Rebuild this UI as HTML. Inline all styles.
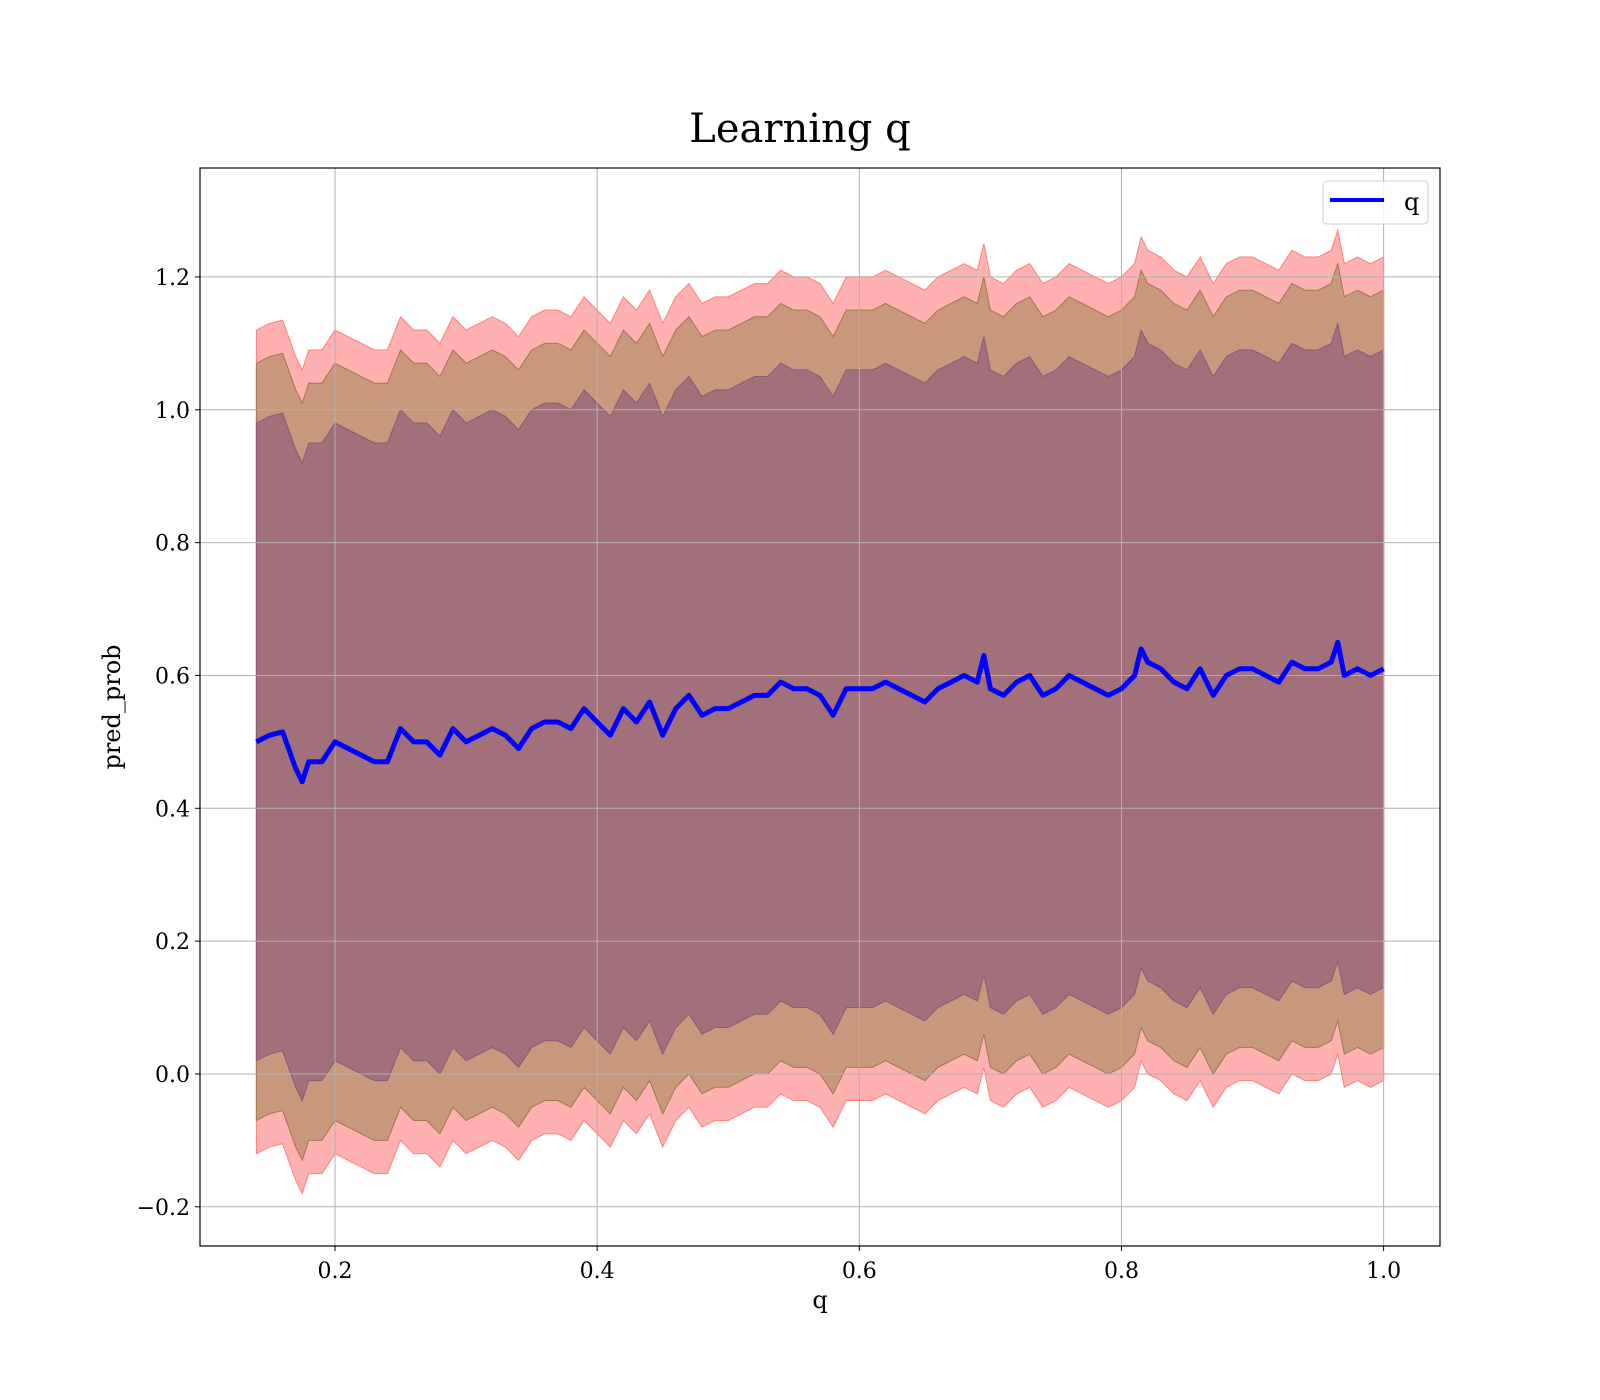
<!DOCTYPE html>
<html><head><meta charset="utf-8"><style>
body{margin:0;background:#fff}
svg{display:block}
text{font-family:"DejaVu Serif","Liberation Serif",serif;fill:#000}
</style></head><body>
<svg width="1600" height="1400" viewBox="0 0 1600 1400">
<text x="800" y="142" font-size="40" text-anchor="middle">Learning q</text>
<g id="plot"></g>
<script>
const qVals=[0.14,0.15,0.16,0.17,0.175,0.18,0.19,0.20,0.21,0.22,0.23,0.24,0.25,0.26,0.27,0.28,0.29,0.30,0.31,0.32,0.33,0.34,0.35,0.36,0.37,0.38,0.39,0.40,0.41,0.42,0.43,0.44,0.45,0.46,0.47,0.48,0.49,0.50,0.51,0.52,0.53,0.54,0.55,0.56,0.57,0.58,0.59,0.60,0.61,0.62,0.63,0.64,0.65,0.66,0.67,0.68,0.69,0.695,0.70,0.71,0.72,0.73,0.74,0.75,0.76,0.77,0.78,0.79,0.80,0.81,0.815,0.82,0.83,0.84,0.85,0.86,0.87,0.88,0.89,0.90,0.91,0.92,0.93,0.94,0.95,0.96,0.965,0.97,0.98,0.99,1.0];
const predProb=[0.50,0.51,0.515,0.46,0.44,0.47,0.47,0.50,0.49,0.48,0.47,0.47,0.52,0.50,0.50,0.48,0.52,0.50,0.51,0.52,0.51,0.49,0.52,0.53,0.53,0.52,0.55,0.53,0.51,0.55,0.53,0.56,0.51,0.55,0.57,0.54,0.55,0.55,0.56,0.57,0.57,0.59,0.58,0.58,0.57,0.54,0.58,0.58,0.58,0.59,0.58,0.57,0.56,0.58,0.59,0.60,0.59,0.63,0.58,0.57,0.59,0.60,0.57,0.58,0.60,0.59,0.58,0.57,0.58,0.60,0.64,0.62,0.61,0.59,0.58,0.61,0.57,0.60,0.61,0.61,0.60,0.59,0.62,0.61,0.61,0.62,0.65,0.60,0.61,0.60,0.61];
const bandHalf=[0.62,0.57,0.48];
const xTicks=[0.2,0.4,0.6,0.8,1.0];
const yTicks=[-0.2,0.0,0.2,0.4,0.6,0.8,1.0,1.2];
const xTickLabels=["0.2","0.4","0.6","0.8","1.0"];
const yTickLabels=["\u22120.2","0.0","0.2","0.4","0.6","0.8","1.0","1.2"];
const L=200,R=1440,T=168,B=1246,X0=0.097,X1=1.043,Y0=-0.259,Y1=1.364;
const sx=v=>L+(v-X0)/(X1-X0)*(R-L);
const sy=v=>B-(v-Y0)/(Y1-Y0)*(B-T);
const NS="http://www.w3.org/2000/svg";
const g=document.getElementById('plot');
function mk(t,a,p){const e=document.createElementNS(NS,t);for(const k in a)e.setAttribute(k,a[k]);(p||g).appendChild(e);return e;}
const bandFill=["#ffb0b0","#c9977c","#a2707a"];
const bandEdge=["#ff8080","#a07850","#8a5a78"];
const bandNames=["band-outer","band-middle","band-inner"];
bandHalf.forEach((h,i)=>{
  let up=qVals.map((x,j)=>sx(x)+','+sy(predProb[j]+h));
  let dn=qVals.map((x,j)=>sx(x)+','+sy(predProb[j]-h)).reverse();
  const p=mk('polygon',{points:up.concat(dn).join(' '),fill:bandFill[i],stroke:bandEdge[i],'stroke-width':1});
  
  
});
xTicks.forEach((v,i)=>{
  const l=mk('line',{x1:sx(v),x2:sx(v),y1:T,y2:B,stroke:'#b0b0b0','stroke-width':1});
  
  
  mk('line',{x1:sx(v),x2:sx(v),y1:B,y2:B+5,stroke:'#000'});
  const t=mk('text',{x:sx(v),y:B+32,'font-size':22,'text-anchor':'middle'});t.textContent=xTickLabels[i];
  
  
});
yTicks.forEach((v,i)=>{
  const l=mk('line',{x1:L,x2:R,y1:sy(v),y2:sy(v),stroke:'#b0b0b0','stroke-width':1});
  
  
  mk('line',{x1:L-5,x2:L,y1:sy(v),y2:sy(v),stroke:'#000'});
  const t=mk('text',{x:L-10,y:sy(v)+8,'font-size':22,'text-anchor':'end'});t.textContent=yTickLabels[i];
  
  
});
const line=mk('polyline',{points:qVals.map((x,j)=>sx(x)+','+sy(predProb[j])).join(' '),fill:'none',stroke:'#0000ff','stroke-width':5,'stroke-linejoin':'round'});


const fr=mk('rect',{x:L,y:T,width:R-L,height:B-T,fill:'none',stroke:'#000','stroke-width':1.2});


</script>
<g>
<rect x="1323" y="181" width="105" height="43" rx="4" fill="#fff" fill-opacity="0.8" stroke="#ccc"/>
<line x1="1330" y1="200" x2="1384" y2="200" stroke="#0000ff" stroke-width="4"/>
<text x="1404" y="210" font-size="24">q</text>
</g>
<text x="820" y="1308" font-size="24" text-anchor="middle">q</text>
<text transform="translate(120,707) rotate(-90)" font-size="24" text-anchor="middle">pred_prob</text>
</svg>
</body></html>
